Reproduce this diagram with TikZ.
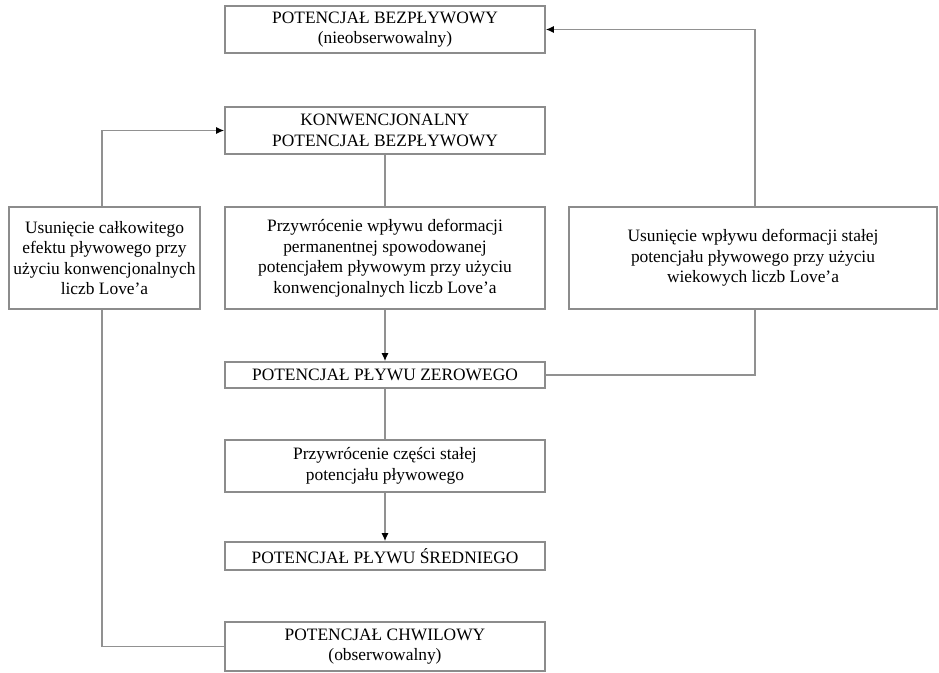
\documentclass[tikz,border=0pt]{standalone}
\usepackage{fontspec}
\setmainfont{Liberation Serif}
\usetikzlibrary{arrows.meta,backgrounds}
\definecolor{boxgray}{RGB}{140,140,140}
\definecolor{linegray}{RGB}{145,145,145}
\begin{document}
\begin{tikzpicture}[x=1pt,y=-1pt,
  box/.style={draw=boxgray,line width=1.6pt,fill=white,align=center,inner sep=0pt,
    font=\fontsize{17.4}{20.5}\selectfont},
  wide/.style={minimum width=320pt},
  conn/.style={draw=linegray,line width=1.4pt},
  arr/.style={conn,-{Latex[length=8pt,width=7pt,color=black]}}]
\useasboundingbox (0,0) rectangle (939,672);

\node[box,wide,minimum height=47pt] (pb) at (385,29.5) {POTENCJAŁ BEZPŁYWOWY\\(nieobserwowalny)};
\node[box,wide,minimum height=47pt] (kpb) at (385,130.5) {KONWENCJONALNY\\POTENCJAŁ BEZPŁYWOWY};
\node[box,minimum width=191pt,minimum height=102pt] (left) at (104.5,258) {Usunięcie całkowitego\\efektu pływowego przy\\użyciu konwencjonalnych\\liczb Love’a};
\node[box,wide,minimum height=102pt] (mid) at (385,258) {Przywrócenie wpływu deformacji\\permanentnej spowodowanej\\potencjałem pływowym przy użyciu\\konwencjonalnych liczb Love’a};
\node[box,minimum width=368pt,minimum height=102pt] (right) at (753,258) {Usunięcie wpływu deformacji stałej\\potencjału pływowego przy użyciu\\wiekowych liczb Love’a};
\node[box,wide,minimum height=26pt] (pz) at (385,375) {POTENCJAŁ PŁYWU ZEROWEGO};
\node[box,wide,minimum height=52pt] (pcs) at (385,466) {Przywrócenie części stałej\\potencjału pływowego};
\node[box,wide,minimum height=28pt] (ps) at (385,556) {POTENCJAŁ PŁYWU ŚREDNIEGO};
\node[box,wide,minimum height=49pt] (pch) at (385,646.5) {POTENCJAŁ CHWILOWY\\(obserwowalny)};

\coordinate (rt) at (755,29.5);
\coordinate (lt) at (102,130.5);

\begin{pgfonlayer}{background}
\draw[conn] (kpb) -- (mid);
\draw[arr] (mid) -- (pz);
\draw[conn] (pz) -- (pcs);
\draw[arr] (pcs) -- (ps);
\draw[arr] (pz.east) -| (rt) -- (pb.east);
\draw[arr] (pch.west) -| (lt) -- (kpb.west);
\end{pgfonlayer}
\end{tikzpicture}
\end{document}
